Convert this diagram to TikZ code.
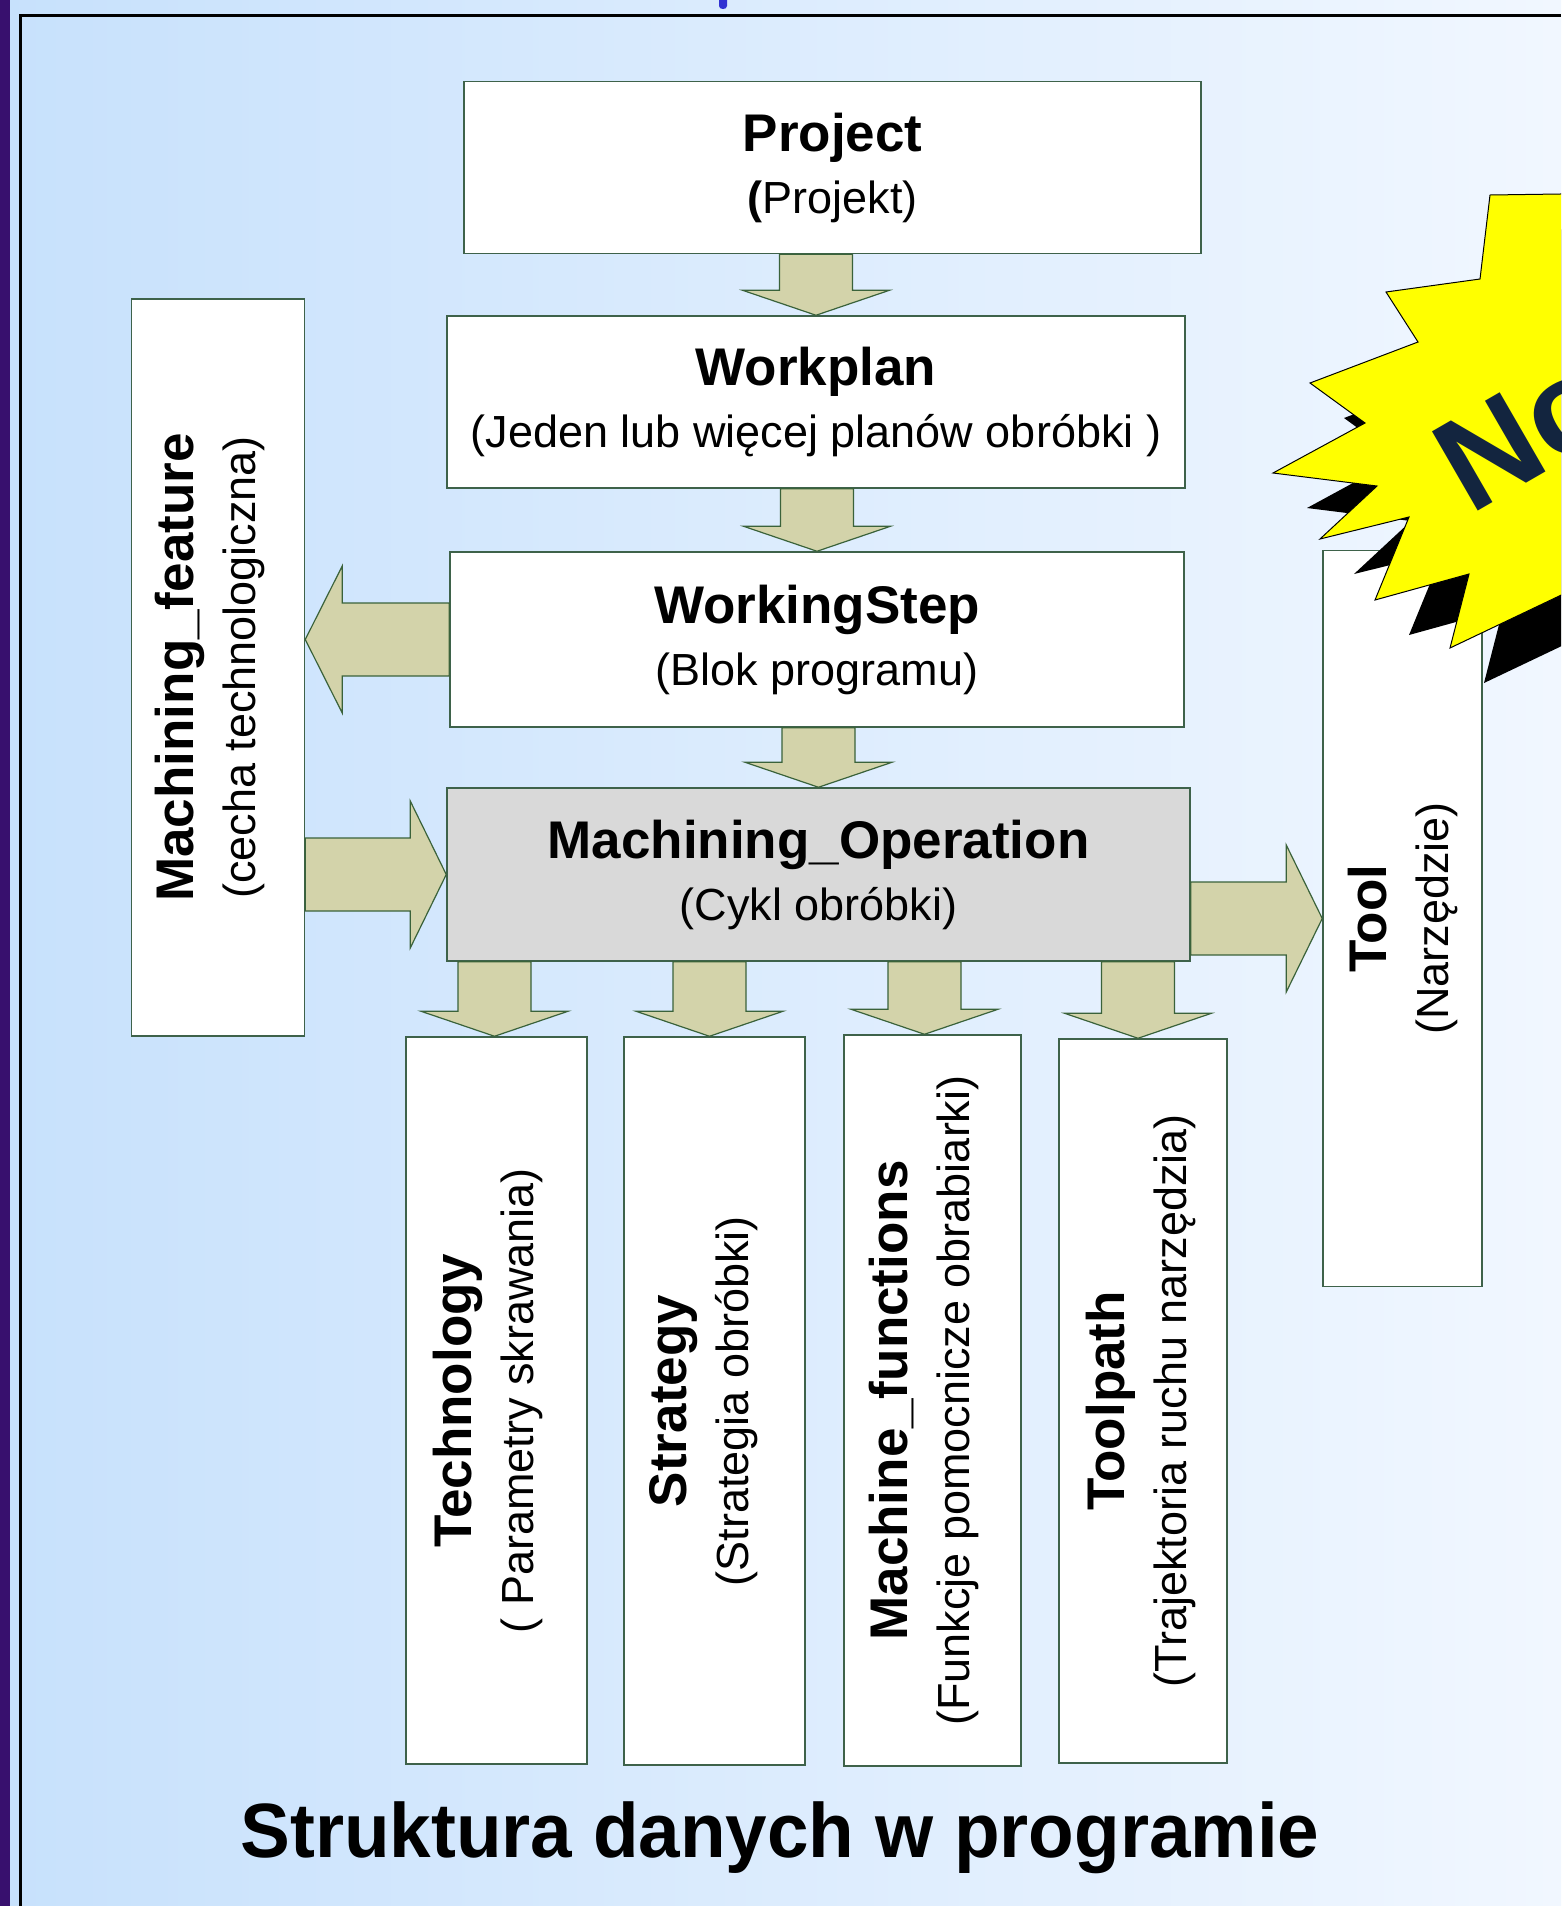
\documentclass[tikz,border=0pt]{standalone}
\usepackage{fontspec}
\setmainfont{Liberation Sans}
\usetikzlibrary{calc}

\definecolor{bgleft}{RGB}{199,225,252}
\definecolor{bgright}{RGB}{241,247,255}
\definecolor{boxline}{RGB}{62,98,74}
\definecolor{arrowfill}{RGB}{211,211,170}
\definecolor{arrowline}{RGB}{58,98,58}
\definecolor{opgray}{RGB}{217,217,217}
\definecolor{framepurple}{RGB}{56,16,110}
\definecolor{navy}{RGB}{19,37,63}
\definecolor{burst}{RGB}{255,255,0}
\definecolor{headblue}{RGB}{50,50,210}

\newcommand{\titl}[1]{{\fontsize{53}{62}\selectfont\bfseries #1}}

\tikzset{
  hbox/.style={draw=boxline, line width=1.5pt, fill=white, inner sep=0pt,
    align=center, font=\fontsize{45}{62}\selectfont},
  vbox/.style={draw=boxline, line width=1.5pt, fill=white, inner sep=0pt},
  vtext/.style={rotate=90, inner sep=0pt, align=center, font=\fontsize{45}{62}\selectfont},
  fat/.style={draw=arrowline, fill=arrowfill, line width=1.2pt, to path={
      let \p1=(\tikztostart), \p2=(\tikztotarget), \p3=($(\p2)!#1!(\p1)$) in
      ($(\p1)!36.5pt!90:(\p2)$) -- ($(\p3)!36.5pt!90:(\p2)$) -- ($(\p3)!73.5pt!90:(\p2)$)
      -- (\p2) -- ($(\p3)!73.5pt!-90:(\p2)$) -- ($(\p3)!36.5pt!-90:(\p2)$)
      -- ($(\p1)!36.5pt!-90:(\p2)$) -- cycle}},
  fat/.default=25pt
}

\begin{document}
\begin{tikzpicture}[x=1pt, y=-1pt]
  \useasboundingbox (0,0) rectangle (1561,1906);
  \clip (0,0) rectangle (1561,1906);

  % slide background
  \fill[left color=bgleft, right color=bgright] (0,0) rectangle (1561,1906);
  \fill[headblue] (719,0) -- (727,0) -- (727,6) .. controls (727,10) and (719,10) .. (719,6) -- cycle;

  % these are the boxes
  \node[hbox, minimum width=737pt, minimum height=172pt] (proj) at (832.5,167.5)
    {\titl{Project}\\{\bfseries(}Projekt)};
  \node[hbox, minimum width=738pt, minimum height=172pt] (wplan) at (816,402)
    {\titl{Workplan}\\(Jeden lub więcej planów obróbki )};
  \node[hbox, minimum width=734pt, minimum height=175pt] (wstep) at (817,639.5)
    {\titl{WorkingStep}\\(Blok programu)};
  \node[hbox, fill=opgray, minimum width=743pt, minimum height=173pt] (mop) at (818.5,874.5)
    {\titl{Machining\_Operation}\\(Cykl obróbki)};

  \node[vbox, minimum width=173pt, minimum height=737pt] (feat) at (218,667.5) {};
  \node[vbox, minimum width=159pt, minimum height=736pt] (tool) at (1402.5,918.5) {};
  \node[vbox, minimum width=181pt, minimum height=727pt] (tech) at (496.5,1400.5) {};
  \node[vbox, minimum width=181pt, minimum height=728pt] (strat) at (714.5,1401) {};
  \node[vbox, minimum width=177pt, minimum height=731pt] (mfun) at (932.5,1400.5) {};
  \node[vbox, minimum width=168pt, minimum height=724pt] (tpath) at (1143,1401) {};

  % texts of the upright boxes
  \node[vtext] (feat-t) at ([xshift=-8pt]feat.center) {\titl{Machining\_feature}\\(cecha technologiczna)};
  \node[vtext] (tool-t) at (tool.center) {\titl{Tool}\\(Narzędzie)};
  \node[vtext] (tech-t) at ([xshift=-9pt]tech.center) {\titl{Technology}\\( Parametry skrawania)};
  \node[vtext] (strat-t) at ([xshift=-11pt]strat.center) {\titl{Strategy}\\(Strategia obróbki)};
  \node[vtext] (mfun-t) at ([xshift=-9pt]mfun.center) {\titl{Machine\_functions}\\(Funkcje pomocnicze obrabiarki)};
  \node[vtext] (tpath-t) at ([xshift=-2pt]tpath.center) {\titl{Toolpath}\\(Trajektoria ruchu narzędzia)};

  % these are the arrows
  \draw[fat] (proj.south -| wplan.north) to (wplan.north);
  \draw[fat] (wplan.south -| wstep.north) to (wstep.north);
  \draw[fat] (wstep.south -| mop.north) to (mop.north);
  \draw[fat=37pt] (wstep.west) to (wstep.west -| feat.east);
  \draw[fat=36pt] (feat.east |- mop.west) to (mop.west);
  \draw[fat=36pt] (mop.east |- tool.west) to (tool.west);
  \draw[fat] ([xshift=-2pt]mop.south -| tech.north) to ([xshift=-2pt]tech.north);
  \draw[fat] ([xshift=-5pt]mop.south -| strat.north) to ([xshift=-5pt]strat.north);
  \draw[fat] ([xshift=-8pt]mop.south -| mfun.north) to ([xshift=-8pt]mfun.north);
  \draw[fat] ([xshift=-5pt]mop.south -| tpath.north) to ([xshift=-5pt]tpath.north);

  % the burst with its shadow
  \fill[black, shift={(34,35)}] (1700,192) -- (1490,195) -- (1480,279) -- (1386,292) -- (1418,342)
    -- (1310,383) -- (1365,423) -- (1273,473) -- (1377,486) -- (1320,539) -- (1409,517)
    -- (1375,600) -- (1469,574) -- (1450,648) -- (1700,529) -- cycle;
  \filldraw[fill=burst, draw=black, line width=1pt] (1700,192) -- (1490,195) -- (1480,279) -- (1386,292) -- (1418,342)
    -- (1310,383) -- (1365,423) -- (1273,473) -- (1377,486) -- (1320,539) -- (1409,517)
    -- (1375,600) -- (1469,574) -- (1450,648) -- (1700,529) -- cycle;
  \node[navy, rotate=30, anchor=base west, inner sep=0pt, font=\fontsize{133}{133}\selectfont\bfseries]
    (burst-t) at (1470,516) {No};

  % caption
  \node[anchor=base, inner sep=0pt, xscale=0.97, font=\fontsize{77}{77}\selectfont\bfseries]
    (caption) at (780,1857) {Struktura danych w programie};

  % slide frame
  \fill[framepurple] (0,0) rectangle (10,1906);
  \fill[black] (19,14) rectangle (1561,17);
  \fill[black] (19,14) rectangle (22,1906);
\end{tikzpicture}
\end{document}
